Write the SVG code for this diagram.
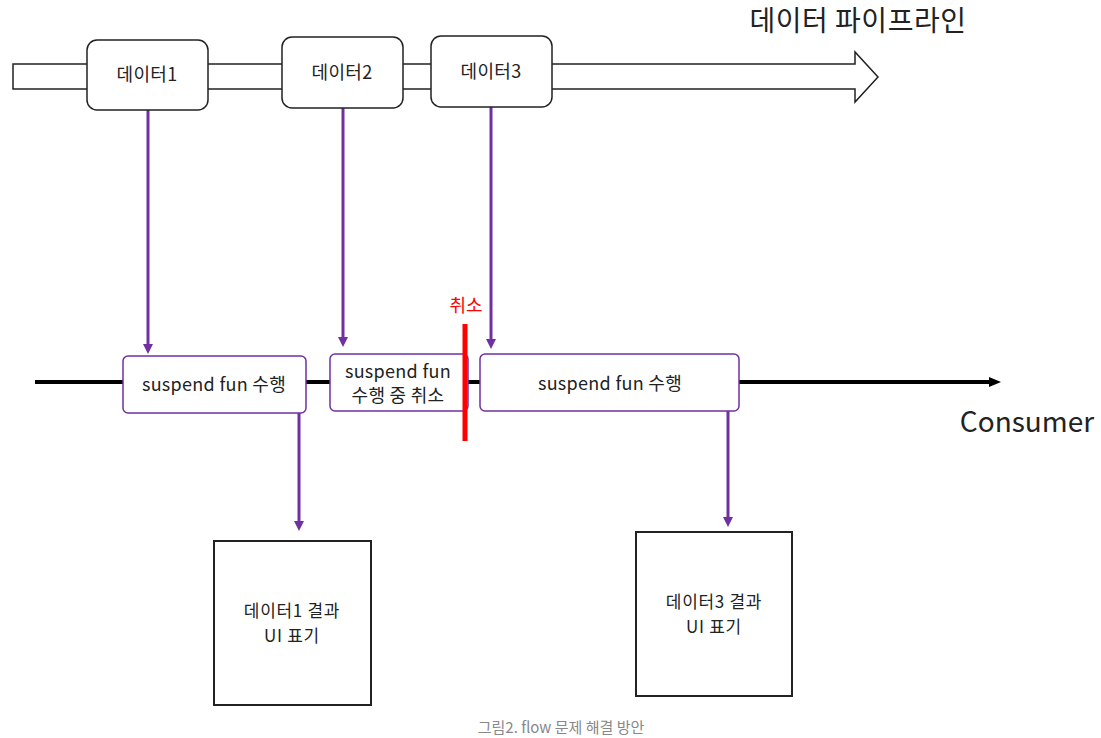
<svg xmlns="http://www.w3.org/2000/svg" width="1101" height="738" viewBox="0 0 1101 738">
<style>
text{font-family:"Noto Sans CJK KR","Noto Sans",sans-serif;fill:#222;text-anchor:middle}
.data{fill:#fff;stroke:#222;stroke-width:1.5}
.sus{fill:#fff;stroke:#7030A0;stroke-width:1.5}
.res{fill:#fff;stroke:#222;stroke-width:2}
.pl{stroke:#7030A0;stroke-width:3;fill:none}
.lbl{font-size:18px;letter-spacing:0.3px}
.rl{font-size:17px;letter-spacing:0.7px}
</style>
<defs>
<marker id="pa" markerWidth="10" markerHeight="10" refX="5" refY="5" orient="auto" markerUnits="userSpaceOnUse" viewBox="0 0 10 10">
<path d="M0,0 L10,5 L0,10 z" fill="#7030A0"/>
</marker>
<marker id="ka" markerWidth="12" markerHeight="12" refX="6" refY="6" orient="auto" markerUnits="userSpaceOnUse" viewBox="0 0 12 12">
<path d="M0,1 L12,6 L0,11 z" fill="#000"/>
</marker>
</defs>
<rect width="1101" height="738" fill="#fff"/>
<g id="pipeline">
<polygon points="13,64 855,64 855,52 878,77 855,102 855,89 13,89" fill="#fff" stroke="#222" stroke-width="1.5"/>
<text x="858" y="31" style="font-size:28px;letter-spacing:0.5px">데이터 파이프라인</text>
</g>
<g id="consumer-line">
<line x1="35" y1="382" x2="995" y2="382" stroke="#000" stroke-width="4" marker-end="url(#ka)"/>
<text x="1027" y="432" style="font-size:28px">Consumer</text>
</g>
<g id="connectors">
<line class="pl" x1="148" y1="110" x2="148" y2="349" marker-end="url(#pa)"/>
<line class="pl" x1="343" y1="108" x2="343" y2="342" marker-end="url(#pa)"/>
<line class="pl" x1="491" y1="107" x2="491" y2="344" marker-end="url(#pa)"/>
<line class="pl" x1="299" y1="413" x2="299" y2="526" marker-end="url(#pa)"/>
<line class="pl" x1="728" y1="411" x2="728" y2="522" marker-end="url(#pa)"/>
</g>
<g id="data1"><rect class="data" x="87" y="40" width="121" height="70" rx="10"/><text class="lbl" x="147" y="81">데이터1</text></g>
<g id="data2"><rect class="data" x="282" y="37" width="121" height="71" rx="10"/><text class="lbl" x="342" y="79">데이터2</text></g>
<g id="data3"><rect class="data" x="431" y="36" width="121" height="71" rx="10"/><text class="lbl" x="491" y="78">데이터3</text></g>
<g id="suspend1"><rect class="sus" x="123" y="356" width="183" height="57" rx="5"/><text class="lbl" x="214" y="391">suspend fun 수행</text></g>
<g id="suspend2"><rect class="sus" x="330" y="354" width="138" height="57" rx="5"/><text class="lbl" x="398" y="378">suspend fun</text><text class="lbl" x="398" y="402">수행 중 취소</text></g>
<g id="suspend3"><rect class="sus" x="480" y="354" width="259" height="57" rx="5"/><text class="lbl" x="610" y="390">suspend fun 수행</text></g>
<g id="cancel">
<rect x="462.5" y="324" width="5" height="117" fill="#ff0000"/>
<text x="466" y="312" style="font-size:18px;fill:#ff0000">취소</text>
</g>
<g id="result1"><rect class="res" x="214" y="541" width="157" height="164"/><text class="rl" x="292" y="617">데이터1 결과</text><text class="rl" x="292" y="642">UI 표기</text></g>
<g id="result3"><rect class="res" x="636" y="532" width="156" height="164"/><text class="rl" x="714" y="608">데이터3 결과</text><text class="rl" x="714" y="633">UI 표기</text></g>
<text x="561" y="733" style="font-size:15px;fill:#888">그림2. flow 문제 해결 방안</text>
</svg>
